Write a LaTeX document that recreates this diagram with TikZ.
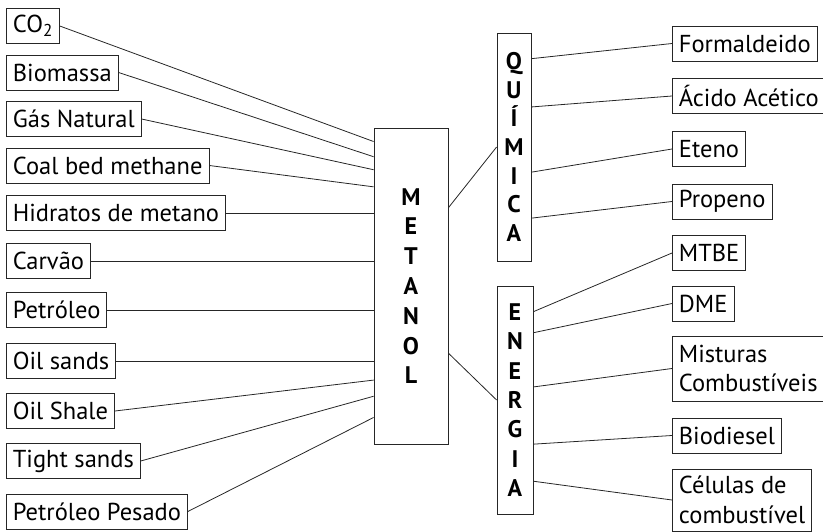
\documentclass[tikz,border=0pt]{standalone}
\usepackage{fontspec}
\setmainfont{PT Sans}
\usetikzlibrary{calc}
\tikzset{
  src box/.style={draw=black!85,line width=0.8pt,anchor=west,minimum height=35pt,inner xsep=6.5pt,inner ysep=2pt,font=\fontsize{24.5}{29.5}\selectfont},
  prod box/.style={src box},
  hub box/.style={draw=black!85,line width=0.8pt,align=center,inner sep=0pt,font=\bfseries\fontsize{24}{29.8}\selectfont},
  link/.style={draw=black!85,line width=0.8pt}
}
\begin{document}
\begin{tikzpicture}[x=1pt,y=-1pt]
  \useasboundingbox (0,0) rectangle (823,532);

  % feedstocks
  \node[src box] (co2) at (6,26)    {CO\textsubscript{2}};
  \node[src box] (bio) at (6,72.5)  {Biomassa};
  \node[src box] (gas) at (6,119)   {Gás Natural};
  \node[src box] (cbm) at (6,165.5) {Coal bed methane};
  \node[src box] (hid) at (6,213)   {Hidratos de metano};
  \node[src box] (car) at (6,261)   {Carvão};
  \node[src box] (pet) at (6,310)   {Petróleo};
  \node[src box] (ois) at (6,361)   {Oil sands};
  \node[src box] (osh) at (6,411)   {Oil Shale};
  \node[src box] (tig) at (6,461)   {Tight sands};
  \node[src box] (pes) at (6,511.5) {Petróleo Pesado};

  % hub and branches
  \node[hub box,minimum width=74pt,minimum height=316pt] (met) at (411,286) {M\\E\\T\\A\\N\\O\\L};
  \node[hub box,minimum width=34pt,minimum height=228pt,font=\bfseries\fontsize{24}{28.7}\selectfont] (qui) at (514,147) {Q\\U\\Í\\M\\I\\C\\A};
  \node[hub box,minimum width=36pt,minimum height=228pt,font=\bfseries\fontsize{24}{29.3}\selectfont] (ene) at (515,400) {E\\N\\E\\R\\G\\I\\A};

  % products
  \node[prod box] (fmd) at (672,43.5)  {Formaldeido};
  \node[prod box] (ace) at (672,96)    {Ácido Acético};
  \node[prod box] (ete) at (672,149)   {Eteno};
  \node[prod box] (pro) at (672,201.5) {Propeno};
  \node[prod box] (mtb) at (672,253)   {MTBE};
  \node[prod box] (dme) at (672,303.5) {DME};
  \node[prod box,align=left,minimum height=65pt] (mis) at (672,368.5) {Misturas\\Combustíveis};
  \node[prod box] (bdi) at (672,435.5) {Biodiesel};
  \node[prod box,align=left,minimum height=62pt] (cel) at (672,500) {Células de\\combustível};

  % feedstocks into metanol
  \foreach \a/\f in {co2/0.044,bio/0.092,gas/0.133,cbm/0.187,osh/0.797,tig/0.848,pes/0.915}
    {\draw[link] (\a.east) -- ($(met.north west)!\f!(met.south west)$);}
  \foreach \a in {hid,car,pet,ois}
    {\draw[link] (\a.east) -- (\a.east -| met.west);}

  % metanol to branches
  \draw[link] ($(met.north east)!0.253!(met.south east)$) -- (qui.west);
  \draw[link] ($(met.north east)!0.712!(met.south east)$) -- (ene.west);

  % branches to products
  \foreach \a/\f in {fmd/0.114,ace/0.325,ete/0.61,pro/0.811}
    {\draw[link] ($(qui.north east)!\f!(qui.south east)$) -- (\a.west);}
  \foreach \a/\f in {mtb/0.114,dme/0.206,mis/0.443,bdi/0.693,cel/0.855}
    {\draw[link] ($(ene.north east)!\f!(ene.south east)$) -- (\a.west);}
\end{tikzpicture}
\end{document}
